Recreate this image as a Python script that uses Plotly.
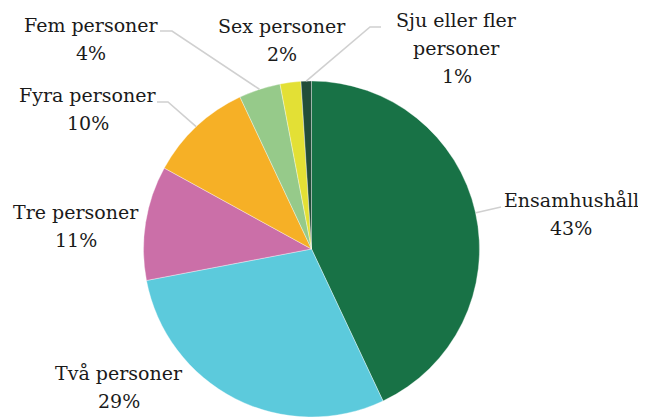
import math
import plotly.graph_objects as go

# ---- data ----
labels = ["Ensamhushåll", "Två personer", "Tre personer", "Fyra personer",
          "Fem personer", "Sex personer", "Sju eller fler personer"]
label_lines = [["Ensamhushåll"], ["Två personer"], ["Tre personer"], ["Fyra personer"],
               ["Fem personer"], ["Sex personer"], ["Sju eller fler", "personer"]]
values = [43, 29, 11, 10, 4, 2, 1]
colors = ["#187246", "#5ccadc", "#cb6fa8", "#f6b026", "#96ca8a", "#e3e035", "#224d39"]

# ---- layout constants (pixels, in the reference frame) ----
OFF = 8  # page body margin
W, H = 646 - OFF, 417 - OFF
CX, CY, R = 311.5, 249.5, 168.5
LINE = 28
# (center x, first line center y)
label_pos = {
    "Ensamhushåll": (571, 200),
    "Två personer": (119, 373),
    "Tre personer": (76, 212),
    "Fyra personer": (88, 95),
    "Fem personer": (91, 25),
    "Sex personer": (282, 26),
    "Sju eller fler personer": (457, 20),
}
leaders = {
    "Ensamhushåll": [(501, 207)],
    "Fyra personer": [(168, 102), (157, 102)],
    "Fem personer": [(172, 31), (160, 31)],
    "Sju eller fler personer": [(370, 27), (381, 27)],
}

def px(x, y):
    return (x - OFF) / W, 1 - (y - OFF) / H

x0, _ = px(CX - R, 0)
x1, _ = px(CX + R, 0)
_, ytop = px(0, CY - R)
_, ybot = px(0, CY + R)

fig = go.Figure(go.Pie(
    labels=labels, values=values, sort=False, direction="clockwise", rotation=0,
    marker=dict(colors=colors, line=dict(color="rgba(255,255,255,0.6)", width=0.6)),
    textinfo="none", hoverinfo="skip", showlegend=False,
    domain=dict(x=[x0, x1], y=[max(ybot, 0), ytop]),
))

FONT = "DejaVu Serif"
total = sum(values)
cum = 0
annotations = []
shapes = []
for lab, lines, v in zip(labels, label_lines, values):
    mid = (cum + v / 2) / total * 2 * math.pi
    cum += v
    lx, ly = label_pos[lab]
    pct = round(v / total * 100)
    for k, t in enumerate(lines + [f"{pct}%"]):
        ax, ay = px(lx, ly + k * LINE)
        annotations.append(dict(
            x=ax, y=ay, xref="paper", yref="paper", xanchor="center", yanchor="middle",
            text=t, showarrow=False, align="center",
            font=dict(family=FONT, size=19, color="#1a1a1a"),
        ))
    if lab in leaders:
        ex = CX + R * math.sin(mid)
        ey = CY - R * math.cos(mid)
        pts = [(ex, ey)] + leaders[lab]
        path = "M " + " L ".join(f"{px(x, y)[0]:.5f},{px(x, y)[1]:.5f}" for x, y in pts)
        shapes.append(dict(type="path", path=path, xref="paper", yref="paper",
                           line=dict(color="#d0d0d0", width=1.6)))

fig.update_layout(
    width=W, height=H, margin=dict(l=0, r=0, t=0, b=0),
    paper_bgcolor="white", plot_bgcolor="white",
    font=dict(family=FONT),
    annotations=annotations, shapes=shapes,
)
fig.write_html("out.html")
